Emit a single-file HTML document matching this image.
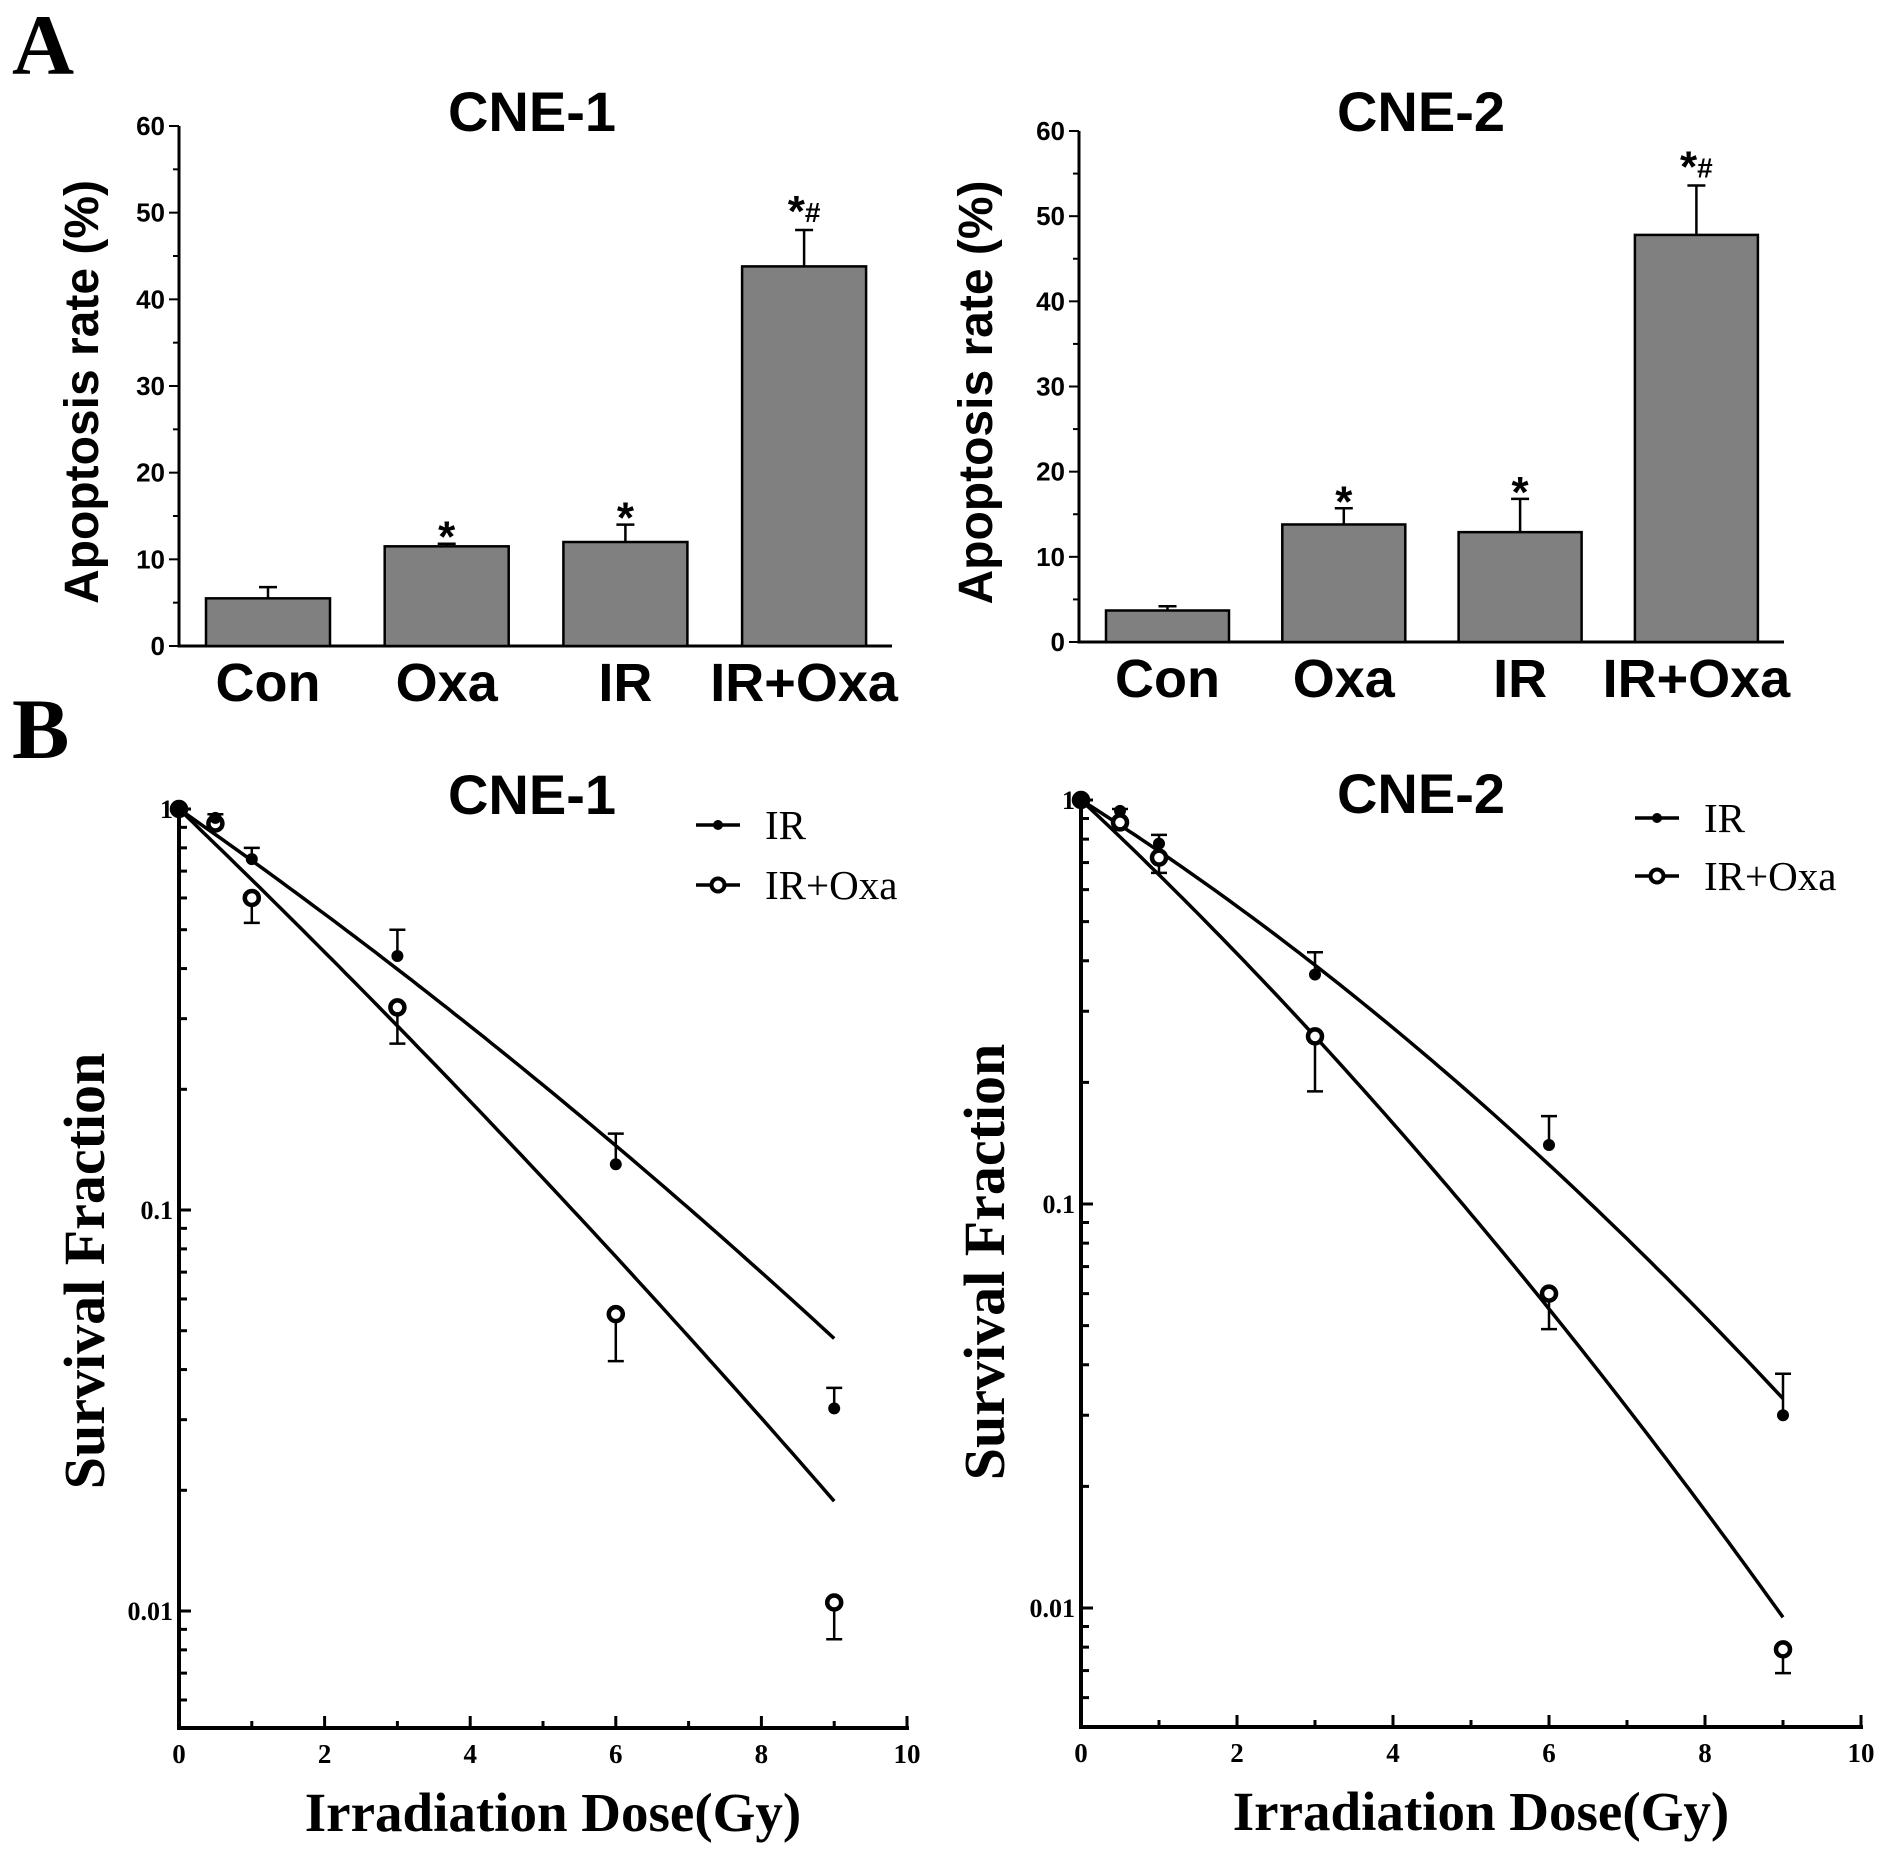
<!DOCTYPE html>
<html><head><meta charset="utf-8"><style>
html,body{margin:0;padding:0;background:#fff;}
svg{display:block;}
.sans{font-family:"Liberation Sans",Arial,sans-serif;font-weight:bold;}
.serif{font-family:"Liberation Serif","Times New Roman",serif;}
</style></head><body>
<svg id="fig" width="1890" height="1857" viewBox="0 0 1890 1857" xmlns="http://www.w3.org/2000/svg">
<text x="12" y="74" class="serif" font-weight="bold" font-size="86">A</text>
<text x="12" y="758" class="serif" font-weight="bold" font-size="86">B</text>
</svg>
<script>
// ---- Panel A data ----
const barCategories = ["Con","Oxa","IR","IR+Oxa"];
const cne1Rates = [5.5, 11.5, 12.0, 43.8];
const cne1RateErr = [1.3, 0.3, 2.0, 4.2];
const cne1Marks = ["", "*", "*", "*#"];
const cne2Rates = [3.7, 13.8, 12.9, 47.8];
const cne2RateErr = [0.5, 1.9, 3.9, 5.8];
const cne2Marks = ["", "*", "*", "*#"];
const barTicks = [0,10,20,30,40,50,60];
// ---- Panel B data ----
const doses = [0, 0.5, 1, 3, 6, 9];
const cne1IR = [1, 0.95, 0.75, 0.43, 0.13, 0.032];
const cne1IRErr = [1, 0.97, 0.80, 0.50, 0.155, 0.036];
const cne1Oxa = [1, 0.92, 0.60, 0.32, 0.055, 0.0105];
const cne1OxaErr = [1, 0.90, 0.52, 0.26, 0.042, 0.0085];
const cne1FitIR = [0.291, 0.0052];   // alpha, beta (LQ fit)
const cne1FitOxa = [0.402, 0.0044];
const cne2IR = [1, 0.94, 0.78, 0.37, 0.14, 0.030];
const cne2IRErr = [1, 0.95, 0.82, 0.42, 0.165, 0.038];
const cne2Oxa = [1, 0.88, 0.72, 0.26, 0.060, 0.0079];
const cne2OxaErr = [1, 0.87, 0.66, 0.19, 0.049, 0.0069];
const cne2FitIR = [0.281, 0.0109];
const cne2FitOxa = [0.415, 0.0114];
const doseTicks = [0,2,4,6,8,10];
const logTicks = [1, 0.1, 0.01];
const logTickLabels = ["1","0.1","0.01"];

const NS="http://www.w3.org/2000/svg";
const svg=document.getElementById('fig');
function mk(tag, attrs, parent){const e=document.createElementNS(NS,tag);for(const k in attrs)e.setAttribute(k,attrs[k]);(parent||svg).appendChild(e);return e;}

function barPanel(cfg){
  const g=mk('g',{});
  
  
  const y=v=>cfg.y0-(v/60)*(cfg.y0-cfg.y60);
  const t=mk('text',{x:cfg.titleX,y:cfg.titleY,'text-anchor':'middle','font-size':56,class:'sans'},g);t.textContent=cfg.title;
  
  
  const ya=mk('line',{x1:cfg.ax,y1:cfg.y60,x2:cfg.ax,y2:cfg.y0+1.5,stroke:'#000','stroke-width':3},g);
  
  
  const xa=mk('line',{x1:cfg.ax-1.5,y1:cfg.y0,x2:cfg.xEnd,y2:cfg.y0,stroke:'#000','stroke-width':3},g);
  
  
  for(let v=0;v<=60;v+=5){
    const major=v%10===0;
    mk('line',{x1:cfg.ax-(major?10:6),y1:y(v),x2:cfg.ax,y2:y(v),stroke:'#000','stroke-width':2},g);
  }
  barTicks.forEach(v=>{
    const tl=mk('text',{x:cfg.ax-14,y:y(v)+9,'text-anchor':'end','font-size':26,class:'sans'},g);tl.textContent=v;
    
    
  });
  const yt=mk('text',{x:0,y:0,'text-anchor':'middle','font-size':48,class:'sans',transform:`translate(${cfg.ytX},${(cfg.y0+cfg.y60)/2+6}) rotate(-90)`},g);
  yt.textContent='Apoptosis rate (%)';
  
  
  const bw=cfg.barW;
  cfg.rates.forEach((v,i)=>{
    const cx=cfg.barX0+i*cfg.barStep+bw/2;
    const top=y(v+cfg.err[i]);
    const eb=mk('path',{d:`M${cx},${y(v)} V${top} M${cx-9},${top} H${cx+9}`,stroke:'#000','stroke-width':2.5,fill:'none'},g);
    
    
    const r=mk('rect',{x:cfg.barX0+i*cfg.barStep,y:y(v),width:bw,height:cfg.y0-y(v),fill:'#808080',stroke:'#000','stroke-width':2.5},g);
    
    
    if(cfg.marks[i]){
      const s=mk('text',{x:cx,y:top+(cfg.marks[i].length>1?-4:8),'text-anchor':'middle','font-size':44,class:'sans'},g);
      const t1=mk('tspan',{},s);t1.textContent='*';
      if(cfg.marks[i].length>1){const t2=mk('tspan',{'font-size':28,dy:-4},s);t2.textContent='#';}
      
      
    }
    const cl=mk('text',{x:cx,y:cfg.y0+55,'text-anchor':'middle','font-size':54,class:'sans'},g);
    cl.textContent=barCategories[i];
    
    
  });
}

function survPanel(cfg){
  const g=mk('g',{});
  
  
  const x=d=>cfg.ax+d/10*(cfg.x10-cfg.ax);
  const y=s=>cfg.y1-Math.log10(s)*cfg.dec;
  const t=mk('text',{x:cfg.titleX,y:cfg.titleY,'text-anchor':'middle','font-size':56,class:'sans'},g);t.textContent=cfg.title;
  
  
  const ya=mk('line',{x1:cfg.ax,y1:cfg.y1-4,x2:cfg.ax,y2:cfg.yb+2,stroke:'#000','stroke-width':4},g);
  
  
  const xa=mk('line',{x1:cfg.ax-2,y1:cfg.yb,x2:cfg.x10+2,y2:cfg.yb,stroke:'#000','stroke-width':4},g);
  
  
  [0.1,0.01,0.001].forEach(base=>{for(let k=2;k<=9;k++){const v=base*k;const yy=y(v);if(yy<=cfg.yb&&yy>=cfg.y1)mk('line',{x1:cfg.ax,y1:yy,x2:cfg.ax+8,y2:yy,stroke:'#000','stroke-width':3},g);}});
  logTicks.forEach((v,i)=>{
    mk('line',{x1:cfg.ax,y1:y(v),x2:cfg.ax+12,y2:y(v),stroke:'#000','stroke-width':3},g);
    const tl=mk('text',{x:cfg.ax-6,y:y(v)+9,'text-anchor':'end','font-size':26,'font-weight':'bold',class:'serif'},g);
    tl.textContent=logTickLabels[i];
    
    
  });
  for(let d=0;d<=10;d+=1){mk('line',{x1:x(d),y1:cfg.yb,x2:x(d),y2:cfg.yb-(d%2===0?12:7),stroke:'#000','stroke-width':3},g);}
  doseTicks.forEach(d=>{
    const tl=mk('text',{x:x(d),y:cfg.yb+35,'text-anchor':'middle','font-size':27,'font-weight':'bold',class:'serif'},g);
    tl.textContent=d;
    
    
  });
  const xt=mk('text',{x:(cfg.ax+cfg.x10)/2+10,y:cfg.yb+103,'text-anchor':'middle','font-size':55,'font-weight':'bold',class:'serif'},g);
  xt.textContent='Irradiation Dose(Gy)';
  
  
  const yt=mk('text',{x:0,y:0,'text-anchor':'middle','font-size':58,'font-weight':'bold',class:'serif',transform:`translate(${cfg.ytX},${cfg.ytY}) rotate(-90)`},g);
  yt.textContent='Survival Fraction';
  
  
  [[cfg.fitIR,'fit-line-ir'],[cfg.fitOxa,'fit-line-ir-oxa']].forEach(([p,nm])=>{
    let d='';for(let i=0;i<=90;i++){const D=i/10;const S=Math.exp(-p[0]*D-p[1]*D*D);d+=(i?'L':'M')+x(D).toFixed(1)+','+y(S).toFixed(1);}
    const l=mk('path',{d:d,stroke:'#000','stroke-width':3.5,fill:'none'},g);
    
    
  });
  doses.forEach((D,i)=>{
    if(i>0){
      const e1=mk('path',{d:`M${x(D)},${y(cfg.ir[i])} V${y(cfg.irErr[i])} M${x(D)-8},${y(cfg.irErr[i])} H${x(D)+8}`,stroke:'#000','stroke-width':2.5,fill:'none'},g);
      
      
      const e2=mk('path',{d:`M${x(D)},${y(cfg.oxa[i])} V${y(cfg.oxaErr[i])} M${x(D)-8},${y(cfg.oxaErr[i])} H${x(D)+8}`,stroke:'#000','stroke-width':2.5,fill:'none'},g);
      
      
    }
    const c2=mk('circle',{cx:x(D),cy:y(cfg.oxa[i]),r:7,fill:'#fff',stroke:'#000','stroke-width':4.5},g);
    
    
    const c1=mk('circle',{cx:x(D),cy:y(cfg.ir[i]),r:6,fill:'#000'},g);
    
    
  });
  const lg=mk('g',{},g);
  
  
  mk('line',{x1:cfg.lgX,y1:cfg.lgY1,x2:cfg.lgX+44,y2:cfg.lgY1,stroke:'#000','stroke-width':3.5},lg);
  mk('circle',{cx:cfg.lgX+22,cy:cfg.lgY1,r:5,fill:'#000'},lg);
  const l1=mk('text',{x:cfg.lgX+69,y:cfg.lgY1+14,'font-size':41,class:'serif'},lg);l1.textContent='IR';
  
  
  mk('line',{x1:cfg.lgX,y1:cfg.lgY2,x2:cfg.lgX+44,y2:cfg.lgY2,stroke:'#000','stroke-width':3.5},lg);
  mk('circle',{cx:cfg.lgX+22,cy:cfg.lgY2,r:6.5,fill:'#fff',stroke:'#000','stroke-width':4},lg);
  const l2=mk('text',{x:cfg.lgX+69,y:cfg.lgY2+14,'font-size':41,class:'serif'},lg);l2.textContent='IR+Oxa';
  
  
}

barPanel({name:'bar-chart-cne1',title:'CNE-1',titleX:532,titleY:131,ax:179,xEnd:892,y0:646,y60:126,barX0:206,barStep:178.7,barW:124,rates:cne1Rates,err:cne1RateErr,marks:cne1Marks,ytX:98});
barPanel({name:'bar-chart-cne2',title:'CNE-2',titleX:1421,titleY:131,ax:1079,xEnd:1784,y0:642,y60:131,barX0:1106,barStep:176.3,barW:123,rates:cne2Rates,err:cne2RateErr,marks:cne2Marks,ytX:992});
survPanel({name:'survival-chart-cne1',title:'CNE-1',titleX:532,titleY:814,ax:179,x10:907,y1:809,dec:401,yb:1728,ir:cne1IR,irErr:cne1IRErr,oxa:cne1Oxa,oxaErr:cne1OxaErr,fitIR:cne1FitIR,fitOxa:cne1FitOxa,ytX:104,ytY:1271,lgX:696,lgY1:825,lgY2:885});
survPanel({name:'survival-chart-cne2',title:'CNE-2',titleX:1421,titleY:813,ax:1081,x10:1861,y1:800,dec:404,yb:1727,ir:cne2IR,irErr:cne2IRErr,oxa:cne2Oxa,oxaErr:cne2OxaErr,fitIR:cne2FitIR,fitOxa:cne2FitOxa,ytX:1004,ytY:1262,lgX:1635,lgY1:818,lgY2:876});
</script>
</body></html>
